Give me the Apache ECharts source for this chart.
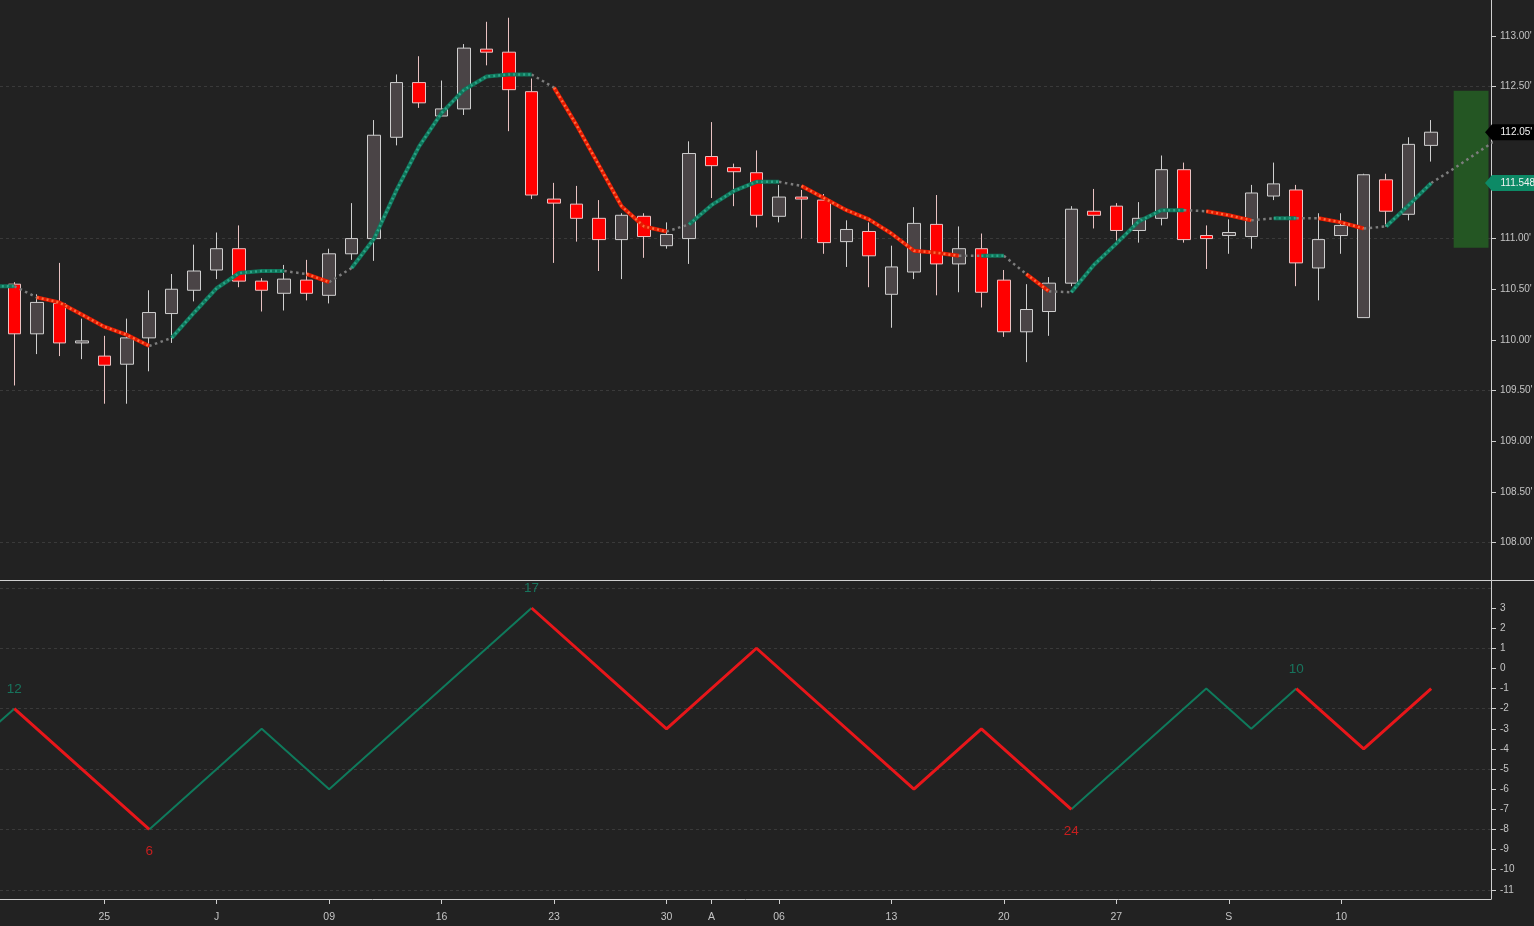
<!DOCTYPE html>
<html>
<head>
<meta charset="utf-8">
<title>Candles with trend MA and zigzag</title>
<script src="https://cdn.jsdelivr.net/npm/echarts@6/dist/echarts.min.js"></script>
<style>
  html, body { margin: 0; padding: 0; background: #222222; }
  #chart { width: 1534px; height: 926px; }
</style>
</head>
<body>
<div id="chart"></div>
<script>
// candles, bar 0 is the first one on screen
const opens = [110.55, 110.06, 110.36, 109.97, 109.84, 109.76, 110.02, 110.26, 110.49, 110.69,
  110.90, 110.58, 110.46, 110.59, 110.44, 110.85, 111.00, 112.00, 112.54, 112.21,
  112.28, 112.87, 112.84, 112.45, 111.39, 111.34, 111.20, 110.99, 111.22, 110.93,
  111.00, 111.81, 111.70, 111.65, 111.22, 111.41, 111.38, 110.97, 111.07, 110.45,
  110.67, 111.14, 110.75, 110.90, 110.59, 110.08, 110.28, 110.56, 111.27, 111.32,
  111.08, 111.20, 111.68, 111.03, 111.03, 111.02, 111.42, 111.48, 110.71, 111.03,
  110.22, 111.58, 111.24, 111.92]
const closes = [110.06, 110.37, 109.97, 109.99, 109.75, 110.02, 110.27, 110.50, 110.68, 110.90,
  110.58, 110.49, 110.60, 110.46, 110.85, 111.00, 112.02, 112.54, 112.34, 112.28,
  112.88, 112.84, 112.47, 111.43, 111.35, 111.20, 110.99, 111.23, 111.02, 111.04,
  111.84, 111.72, 111.66, 111.23, 111.41, 111.39, 110.96, 111.09, 110.83, 110.72,
  111.15, 110.75, 110.90, 110.47, 110.08, 110.30, 110.56, 111.29, 111.23, 111.08,
  111.20, 111.68, 110.99, 111.00, 111.06, 111.45, 111.54, 110.76, 110.99, 111.13,
  111.63, 111.27, 111.93, 112.05]
const lows = [109.55, 109.86, 109.84, 109.81, 109.37, 109.37, 109.69, 109.97, 110.38, 110.60,
  110.52, 110.28, 110.29, 110.39, 110.36, 110.79, 110.78, 111.92, 112.29, 112.21,
  112.22, 112.71, 112.06, 111.39, 110.76, 110.97, 110.68, 110.60, 110.81, 110.90,
  110.75, 111.40, 111.32, 111.11, 111.16, 111.00, 110.85, 110.72, 110.52, 110.12,
  110.60, 110.44, 110.47, 110.32, 110.03, 109.78, 110.04, 110.53, 111.10, 110.98,
  110.96, 111.13, 110.96, 110.70, 110.85, 110.90, 111.38, 110.53, 110.39, 110.85,
  110.22, 111.12, 111.18, 111.76]
const highs = [110.57, 110.45, 110.76, 110.21, 110.04, 110.21, 110.49, 110.65, 110.94, 111.06,
  111.13, 110.61, 110.74, 110.79, 110.90, 111.35, 112.17, 112.62, 112.80, 112.56,
  112.92, 113.14, 113.18, 112.58, 111.55, 111.52, 111.38, 111.25, 111.25, 111.16,
  111.96, 112.15, 111.74, 111.87, 111.53, 111.48, 111.44, 111.18, 111.16, 110.93,
  111.31, 111.43, 111.12, 111.05, 110.69, 110.55, 110.62, 111.32, 111.49, 111.35,
  111.36, 111.82, 111.75, 111.13, 111.19, 111.53, 111.75, 111.53, 111.25, 111.25,
  111.64, 111.64, 112.00, 112.17]

// moving average from bar -1 (off screen) to bar 66 (last three are the projection)
const maStart = -1
const maValues = [110.53, 110.53, 110.42, 110.37, 110.25, 110.13, 110.05, 109.94, 110.02, 110.27,
  110.51, 110.66, 110.68, 110.68, 110.65, 110.57, 110.71, 111.00, 111.48, 111.91,
  112.24, 112.47, 112.60, 112.62, 112.62, 112.49, 112.12, 111.72, 111.32, 111.12,
  111.07, 111.14, 111.33, 111.47, 111.56, 111.56, 111.52, 111.40, 111.28, 111.19,
  111.05, 110.88, 110.86, 110.83, 110.83, 110.83, 110.65, 110.48, 110.47, 110.74,
  110.95, 111.17, 111.28, 111.28, 111.27, 111.23, 111.18, 111.20, 111.20, 111.20,
  111.16, 111.10, 111.12, 111.33, 111.548, 111.69, 111.84, 111.99]
// state of the MA segment that ends on bar i (i = 0..66): 1 rising, -1 falling, 0 neutral
const maTrend = [1, 0, -1, -1, -1, -1, -1, 0, 1, 1,
  1, 1, 1, 0, -1, 0, 1, 1, 1, 1,
  1, 1, 1, 1, 0, -1, -1, -1, -1, -1,
  0, 1, 1, 1, 1, 0, -1, -1, -1, -1,
  -1, -1, -1, 0, 1, 0, -1, 0, 1, 1,
  1, 1, 1, 0, -1, -1, 0, 1, 0, -1,
  -1, 0, 1, 1, 0, 0, 0]

// zigzag pivots (bar, value) and the finished trends with their bar count
const zzIdx = [-1, 0, 6, 11, 14, 23, 29, 33, 40, 43, 47, 53, 55, 57, 60, 63]
const zzVal = [-3, -2, -8, -3, -6, 3, -3, 1, -6, -3, -7, -1, -3, -1, -4, -1]
const trendEnds = [0, 6, 23, 47, 57]
const trendBars = [12, 6, 17, 24, 10]
const trendDirs = [1, -1, 1, -1, 1]

const dateIdx = [4, 9, 14, 19, 24, 29, 31, 34, 39, 44, 49, 54, 59]
const dateText = ['25', 'J', '09', '16', '23', '30', 'A', '06', '13', '20', '27', 'S', '10']
const priceTicks = [108, 108.5, 109, 109.5, 110, 110.5, 111, 111.5, 112, 112.5, 113]
const priceGrid = [108, 109.5, 111, 112.5]
const oscTicks = [-11, -10, -9, -8, -7, -6, -5, -4, -3, -2, -1, 0, 1, 2, 3]
const oscGrid = [-11, -8, -5, -2, 1, 4]

// projected range box right of the last bar
const boxX = [64, 65.55]
const boxY = [110.91, 112.46]

const bg = '#222222'
const axisColor = '#cfcfcf'
const textColor = '#c4c4c4'
const gridColor = '#3a3a3a'
const upColor = '#0f765b'
const upDots = '#2ca487'
const downColor = '#e41a00'
const downDots = '#ff6a3c'
const flatColor = '#7d7d7d'
const zzUp = '#0f7a5c'
const zzDown = '#e8161a'
const font = 'Liberation Sans, Arial, sans-serif'

const xMin = -0.636
const xMax = 65.66

const candleData = opens.map((o, i) => [i, o, closes[i], lows[i], highs[i]])

function maRun(state) {
  const pts = []
  let last = null
  maTrend.forEach((t, i) => {
    if (t !== state) return
    if (last !== i - 1) {
      if (pts.length) pts.push([i - 1, '-'])
      pts.push([i - 1, maValues[i - 1 - maStart]])
    }
    pts.push([i, maValues[i - maStart]])
    last = i
  })
  return pts
}

function zzDir(p) {
  for (let k = 0; k < trendEnds.length; k++) {
    if (zzIdx[p] <= trendEnds[k]) return trendDirs[k]
  }
  return -trendDirs[trendDirs.length - 1]
}

function zzRun(dir) {
  const pts = []
  let last = null
  for (let p = 1; p < zzIdx.length; p++) {
    if (zzDir(p) !== dir) continue
    if (last !== p - 1) {
      if (pts.length) pts.push([zzIdx[p - 1], '-'])
      pts.push([zzIdx[p - 1], zzVal[p - 1]])
    }
    pts.push([zzIdx[p], zzVal[p]])
    last = p
  }
  return pts
}

const trendLabels = trendEnds.map((e, k) => ({
  value: [e, zzVal[zzIdx.indexOf(e)]],
  label: {
    formatter: String(trendBars[k]),
    position: trendDirs[k] > 0 ? 'top' : 'bottom',
    distance: trendDirs[k] > 0 ? 12 : 14,
    color: trendDirs[k] > 0 ? '#15886c' : '#f01e1e'
  }
}))

const lastClose = closes[closes.length - 1]
const lastMa = maValues[closes.length - 1 - maStart]
const tagData = [[closes.length - 1, lastClose], [closes.length - 1, lastMa]]
const tagText = [lastClose.toFixed(2) + "'", String(lastMa)]
const tagFill = ['#000000', '#0d8a66']

function renderTag(params, api) {
  const cs = params.coordSys
  const y = api.coord([api.value(0), api.value(1)])[1]
  const x = cs.x + cs.width - 6
  const i = params.dataIndex
  return {
    type: 'group',
    children: [
      {
        type: 'polygon',
        shape: { points: [[x, y], [x + 7, y - 8], [x + 60, y - 8], [x + 60, y + 8], [x + 7, y + 8]] },
        style: { fill: tagFill[i] }
      },
      {
        type: 'text',
        style: { text: tagText[i], x: x + 15.5, y: y, verticalAlign: 'middle', fill: '#f2f2f2', font: '10px ' + font }
      }
    ]
  }
}

function maSeries(state, color, width, type, z) {
  return {
    type: 'line', xAxisIndex: 0, yAxisIndex: 0, data: maRun(state),
    symbol: 'none', silent: true, z: z, connectNulls: false,
    lineStyle: { color: color, width: width, type: type, cap: 'butt' }
  }
}

const chart = echarts.init(document.getElementById('chart'))
chart.setOption({
  backgroundColor: bg,
  animation: false,
  textStyle: { fontFamily: font },
  grid: [
    { left: 0, top: 0, right: 43, height: 580, outerBoundsMode: 'none' },
    { left: 0, top: 581, right: 43, bottom: 27, outerBoundsMode: 'none' }
  ],
  graphic: [{
    type: 'line', silent: true, z: 10,
    shape: { x1: 0, y1: 580.5, x2: 1534, y2: 580.5 },
    style: { stroke: axisColor, lineWidth: 1 }
  }],
  xAxis: [
    {
      gridIndex: 0, type: 'value', min: xMin, max: xMax,
      axisLine: { show: false }, axisTick: { show: false }, axisLabel: { show: false }, splitLine: { show: false }
    },
    {
      gridIndex: 1, type: 'value', min: xMin, max: xMax,
      axisLine: { onZero: false, lineStyle: { color: axisColor } },
      axisTick: { customValues: dateIdx, length: 5, lineStyle: { color: axisColor } },
      axisLabel: {
        customValues: dateIdx, color: textColor, fontSize: 10.5, margin: 13,
        formatter: v => dateText[dateIdx.indexOf(v)]
      },
      splitLine: { show: false }
    }
  ],
  yAxis: [
    {
      gridIndex: 0, type: 'value', position: 'right', min: 107.63, max: 113.355,
      axisLine: { show: true, onZero: false, lineStyle: { color: axisColor } },
      axisTick: { show: true, customValues: priceTicks, length: 5, lineStyle: { color: axisColor } },
      axisLabel: { customValues: priceTicks, color: textColor, fontSize: 10, margin: 9, formatter: v => v.toFixed(2) + "'" },
      splitLine: { show: false }
    },
    {
      gridIndex: 0, type: 'value', position: 'right', min: 107.63, max: 113.355,
      axisLine: { show: false, onZero: false }, axisTick: { show: false, customValues: priceGrid }, axisLabel: { show: false },
      splitLine: { show: true, lineStyle: { color: gridColor, type: [3, 3] } }
    },
    {
      gridIndex: 1, type: 'value', position: 'right', min: -11.456, max: 4.341,
      axisLine: { show: true, onZero: false, lineStyle: { color: axisColor } },
      axisTick: { show: true, customValues: oscTicks, length: 5, lineStyle: { color: axisColor } },
      axisLabel: { customValues: oscTicks, color: textColor, fontSize: 10, margin: 9, formatter: v => String(v) },
      splitLine: { show: false }
    },
    {
      gridIndex: 1, type: 'value', position: 'right', min: -11.456, max: 4.341,
      axisLine: { show: false, onZero: false }, axisTick: { show: false, customValues: oscGrid }, axisLabel: { show: false },
      splitLine: { show: true, lineStyle: { color: gridColor, type: [3, 3] } }
    }
  ],
  series: [
    {
      name: 'price', type: 'candlestick', xAxisIndex: 0, yAxisIndex: 0,
      data: candleData, barWidth: 13, z: 2,
      itemStyle: { color: '#4a4446', color0: '#ff0000', borderColor: '#cfcfcf', borderColor0: '#e9c2c2', borderWidth: 1 },
      markArea: {
        silent: true,
        itemStyle: { color: '#245623' },
        data: [[{ coord: [boxX[0], boxY[1]] }, { coord: [boxX[1], boxY[0]] }]]
      }
    },
    maSeries(0, flatColor, 2.5, [2.5, 3.5], 3),
    maSeries(1, upColor, 4, 'solid', 4),
    maSeries(1, upDots, 2.5, [2, 3], 5),
    maSeries(-1, downColor, 4, 'solid', 4),
    maSeries(-1, downDots, 2.5, [2, 3], 5),
    {
      type: 'line', xAxisIndex: 1, yAxisIndex: 2, data: zzRun(1),
      symbol: 'none', silent: true, lineStyle: { color: zzUp, width: 2 }
    },
    {
      type: 'line', xAxisIndex: 1, yAxisIndex: 2, data: zzRun(-1),
      symbol: 'none', silent: true, lineStyle: { color: zzDown, width: 3 }
    },
    {
      type: 'scatter', xAxisIndex: 1, yAxisIndex: 2, data: trendLabels,
      symbolSize: 1, silent: true, itemStyle: { color: 'rgba(0,0,0,0)' },
      label: { show: true, fontSize: 13.5, fontFamily: font }
    },
    {
      type: 'custom', xAxisIndex: 0, yAxisIndex: 0, data: tagData,
      renderItem: renderTag, clip: false, silent: true, z: 20
    }
  ]
})
</script>
</body>
</html>
